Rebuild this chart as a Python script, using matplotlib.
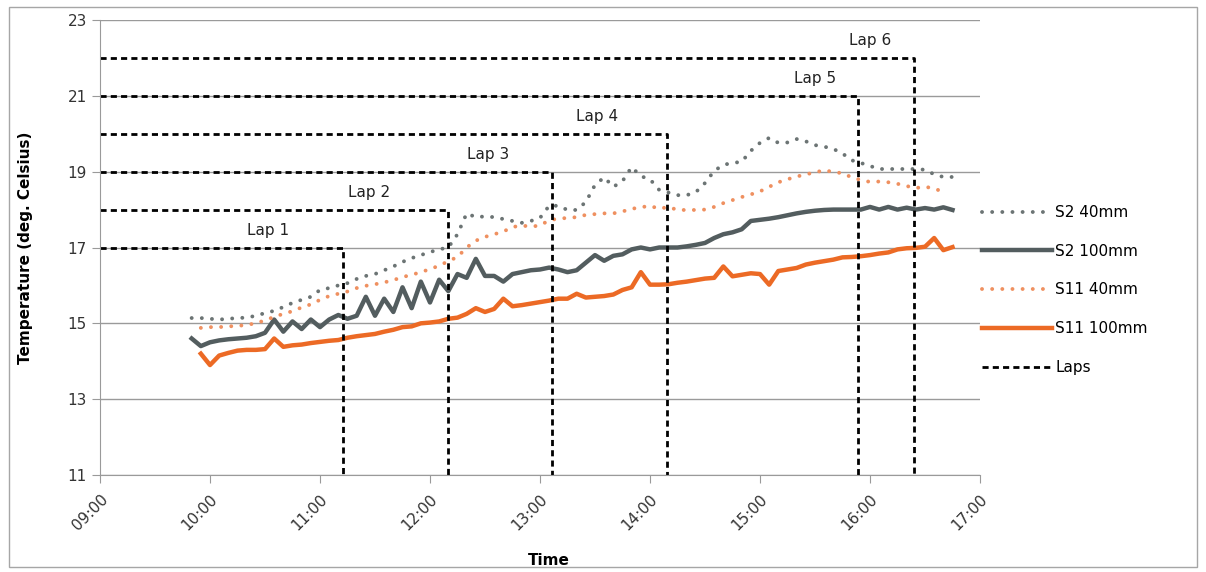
import numpy as np
import matplotlib
matplotlib.use('Agg')
import matplotlib.pyplot as plt
from matplotlib.patches import Rectangle

# sample times: 09:50 .. 16:45 every 5 minutes (hours)
minutes = np.arange(50, 466, 5)
hours = 9 + minutes / 60.0

s2_40 = [
    15.14, 15.14, 15.12, 15.10, 15.12, 15.14, 15.15, 15.20, 15.27, 15.33,
    15.43, 15.54, 15.62, 15.70, 15.88, 15.93, 16.00, 16.06, 16.17, 16.25,
    16.30, 16.40, 16.50, 16.62, 16.72, 16.80, 16.88, 16.95, 17.00, 17.35,
    17.90, 17.80, 17.82, 17.80, 17.75, 17.70, 17.65, 17.70, 17.78, 18.10,
    18.10, 17.99, 17.99, 18.20, 18.65, 18.85, 18.60, 18.75, 19.12, 18.88,
    18.80, 18.52, 18.45, 18.38, 18.38, 18.46, 18.70, 19.02, 19.18, 19.23,
    19.26, 19.55, 19.76, 19.89, 19.76, 19.77, 19.86, 19.80, 19.70, 19.66,
    19.60, 19.48, 19.30, 19.23, 19.15, 19.07, 19.07, 19.07, 19.07, 19.07,
    19.05, 18.93, 18.86, 18.86,
]

s2_100 = [
    14.60, 14.40, 14.50, 14.55, 14.58, 14.60, 14.62, 14.66, 14.75, 15.10,
    14.78, 15.05, 14.85, 15.10, 14.90, 15.10, 15.22, 15.12, 15.20, 15.70,
    15.20, 15.65, 15.30, 15.95, 15.40, 16.10, 15.55, 16.15, 15.85, 16.30,
    16.20, 16.70, 16.25, 16.25, 16.10, 16.30, 16.35, 16.40, 16.42, 16.47,
    16.42, 16.35, 16.40, 16.60, 16.80, 16.65, 16.78, 16.82, 16.95, 17.00,
    16.95, 17.00, 17.00, 17.00, 17.03, 17.07, 17.12, 17.25, 17.35, 17.40,
    17.48, 17.70, 17.73, 17.76, 17.80, 17.85, 17.90, 17.94, 17.97, 17.99,
    18.00, 18.00, 18.00, 18.00, 18.07, 18.00, 18.07, 18.00, 18.05, 18.00,
    18.04, 18.00, 18.06, 17.99,
]

s11_40 = [
    np.nan, 14.88, 14.90, 14.90, 14.92, 14.93, 14.96, 15.00, 15.08, 15.17,
    15.25, 15.32, 15.42, 15.50, 15.62, 15.72, 15.78, 15.84, 15.93, 15.99,
    16.03, 16.08, 16.14, 16.22, 16.28, 16.35, 16.43, 16.52, 16.64, 16.75,
    17.00, 17.18, 17.28, 17.35, 17.42, 17.54, 17.58, 17.55, 17.58, 17.72,
    17.76, 17.78, 17.80, 17.86, 17.88, 17.90, 17.90, 17.95, 18.02, 18.06,
    18.10, 18.02, 18.07, 17.99, 17.99, 17.99, 18.00, 18.07, 18.17, 18.25,
    18.33, 18.40, 18.48, 18.60, 18.72, 18.80, 18.87, 18.93, 18.98, 19.04,
    18.99, 18.96, 18.85, 18.78, 18.73, 18.74, 18.72, 18.68, 18.62, 18.57,
    18.60, 18.56, 18.46, np.nan,
]

s11_100 = [
    np.nan, 14.20, 13.90, 14.15, 14.22, 14.28, 14.30, 14.30, 14.32, 14.60,
    14.38, 14.42, 14.44, 14.48, 14.51, 14.54, 14.56, 14.62, 14.66, 14.69,
    14.72, 14.78, 14.83, 14.90, 14.92, 15.00, 15.02, 15.05, 15.12, 15.15,
    15.25, 15.40, 15.30, 15.38, 15.65, 15.45, 15.48, 15.52, 15.56, 15.60,
    15.65, 15.65, 15.78, 15.68, 15.70, 15.72, 15.76, 15.88, 15.95, 16.35,
    16.02, 16.02, 16.03, 16.07, 16.10, 16.14, 16.18, 16.20, 16.50, 16.24,
    16.28, 16.32, 16.30, 16.02, 16.38, 16.42, 16.46, 16.55, 16.60, 16.64,
    16.68, 16.74, 16.75, 16.77, 16.80, 16.84, 16.87, 16.95, 16.98, 16.99,
    17.02, 17.25, 16.93, 17.01,
]

# laps: level on the y axis and end time (hours)
lap_names = ["Lap 1", "Lap 2", "Lap 3", "Lap 4", "Lap 5", "Lap 6"]
lap_level = [17, 18, 19, 20, 21, 22]
lap_end = [11.21, 12.16, 13.11, 14.15, 15.89, 16.40]
lap_label_x = [10.53, 11.45, 12.53, 13.52, 15.50, 16.00]

grey = "#535d5f"
grey_dot = "#6c7474"
orange = "#ec6a25"
orange_dot = "#ef9060"

fig = plt.figure(figsize=(12.06, 5.72), dpi=100)
ax = fig.add_axes([100 / 1206, 1 - 475 / 572, 880 / 1206, 455 / 572])

fig.patches.append(Rectangle((9 / 1206, 5 / 572), 1188 / 1206, 560 / 572,
                             transform=fig.transFigure, fill=False,
                             edgecolor="#a6a6a6", linewidth=1))

dot = (0, (0.01, 2.6))
l1, = ax.plot(hours, s2_40, color=grey_dot, lw=2.8, linestyle=dot,
              dash_capstyle="round", label="S2 40mm")
l2, = ax.plot(hours, s2_100, color=grey, lw=3.2, label="S2 100mm")
l3, = ax.plot(hours, s11_40, color=orange_dot, lw=2.8, linestyle=dot,
              dash_capstyle="round", label="S11 40mm")
l4, = ax.plot(hours, s11_100, color=orange, lw=3.2, label="S11 100mm")

for i in range(len(lap_names)):
    ln, = ax.plot([9, lap_end[i], lap_end[i]], [lap_level[i], lap_level[i], 11],
                  color="black", lw=2.0, linestyle=(0, (2.2, 1.5)), label="Laps")
    ax.text(lap_label_x[i], lap_level[i] + 0.45, lap_names[i], fontsize=11,
            ha="center", va="center", color="#222222")

ax.set_xlim(9, 17)
ax.set_ylim(11, 23)
ax.set_yticks(range(11, 24, 2))
ax.set_xticks(range(9, 18))
ax.set_xticklabels(["%02d:00" % h for h in range(9, 18)], rotation=45,
                   ha="right", rotation_mode="anchor")
ax.grid(axis="y", color="#9a9a9a", linewidth=1)
ax.set_axisbelow(True)
for side in ["top", "right"]:
    ax.spines[side].set_visible(False)
for side in ["left", "bottom"]:
    ax.spines[side].set_color("#9a9a9a")
ax.tick_params(axis="both", colors="#9a9a9a", labelcolor="#333333",
               labelsize=11, length=6, direction="out")
ax.tick_params(axis="x", pad=6)

ax.set_ylabel("Temperature (deg. Celsius)", fontsize=11, fontweight="bold")
ax.yaxis.set_label_coords(-0.076, 0.5)
ax.set_xlabel("Time", fontsize=11, fontweight="bold")
ax.xaxis.set_label_coords(0.51, -0.172)

fig.legend(handles=[l1, l2, l3, l4, ln], loc="center left",
           bbox_to_anchor=(968 / 1206, 1 - 290 / 572), frameon=False,
           fontsize=11, handlelength=4.6, handletextpad=0.2, labelspacing=1.55)

fig.savefig("out.png", dpi=100)
